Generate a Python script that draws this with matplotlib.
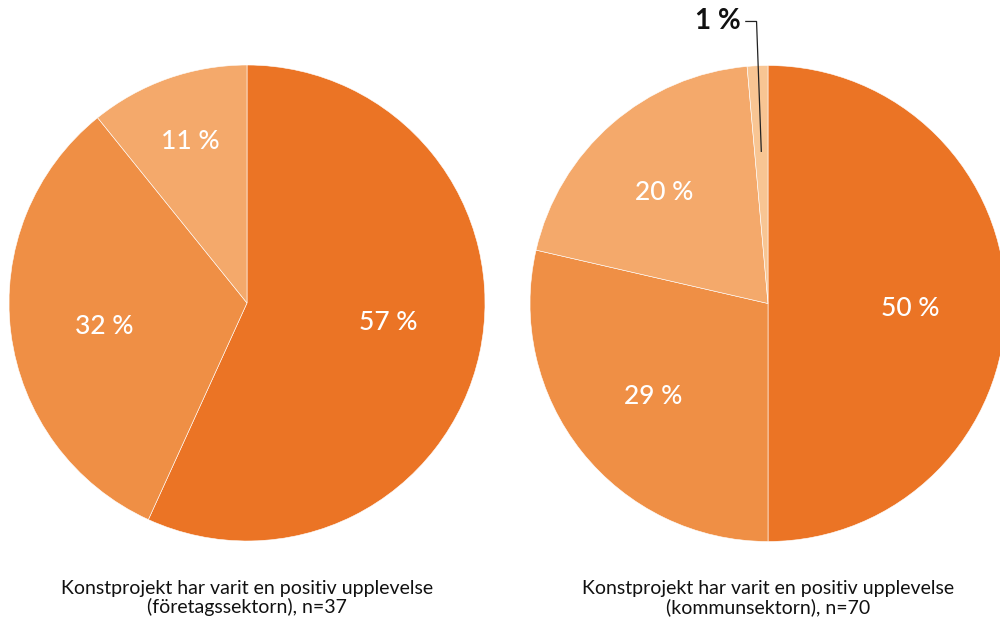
import numpy as np
import matplotlib
matplotlib.use("Agg")
import matplotlib.pyplot as plt

plt.rcParams['font.family'] = ['Lato', 'DejaVu Sans']

# Data (shares; labels as printed)
left_values = [56.8, 32.4, 10.8]
left_labels = ["57 %", "32 %", "11 %"]
left_title = "Konstprojekt har varit en positiv upplevelse\n(företagssektorn), n=37"

right_values = [50, 28.6, 20, 1.4]
right_labels = ["50 %", "29 %", "20 %", "1 %"]
right_title = "Konstprojekt har varit en positiv upplevelse\n(kommunsektorn), n=70"

colors = ["#EB7425", "#EF8F45", "#F4A96B", "#F8C593"]

W, H = 1000, 624
fig = plt.figure(figsize=(W / 100, H / 100), dpi=100)

R = 238


def make_ax(cx, cy):
    return fig.add_axes([(cx - R) / W, (H - cy - R) / H, 2 * R / W, 2 * R / H])


def draw_pie(ax, values, labels, place, inside):
    wedges, _ = ax.pie(values, colors=colors[:len(values)], startangle=90,
                       counterclock=False, radius=1,
                       wedgeprops=dict(edgecolor="white", linewidth=0.4))
    ax.set_xlim(-1, 1)
    ax.set_ylim(-1, 1)
    ax.set_aspect("equal")
    ax.axis("off")
    for w, lab, (d, da), ins in zip(wedges, labels, place, inside):
        mid = np.deg2rad((w.theta1 + w.theta2) / 2 + da)
        if ins:
            ax.text(d * np.cos(mid), d * np.sin(mid), lab, color="white",
                    fontsize=19, fontweight="medium", ha="center", va="center")
        else:
            x0, y0 = 0.64 * np.cos(mid), 0.64 * np.sin(mid)
            x1, y1 = x0 - 0.02, 1.185
            x2 = x1 - 0.045
            ax.plot([x0, x1, x2], [y0, y1, y1], color="#222222", lw=0.9,
                    clip_on=False)
            ax.text(x2 - 0.02, y1, lab, color="#111111", fontsize=20,
                    fontweight="bold", ha="right", va="center")
    return wedges


axL = make_ax(247, 303)
draw_pie(axL, left_values, left_labels,
         [(0.6, 4.5), (0.61, 2.3), (0.72, 0)], [True, True, True])

axR = make_ax(768, 303.5)
draw_pie(axR, right_values, right_labels,
         [(0.6, -2.2), (0.62, 0.6), (0.64, 2), (0.64, 0)],
         [True, True, True, False])

fig.text(247 / W, 1 - 598 / H, left_title, ha="center", va="center",
         fontsize=14, color="#111111", linespacing=1.1)
fig.text(768 / W, 1 - 598 / H, right_title, ha="center", va="center",
         fontsize=14, color="#111111", linespacing=1.1)

fig.savefig("out.png", dpi=100)
